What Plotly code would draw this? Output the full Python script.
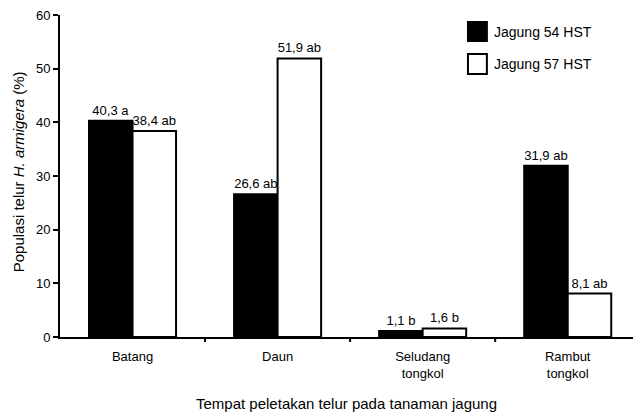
import plotly.graph_objects as go

# Egg-laying sites on maize plants
categories = ["Batang", "Daun", "Seludang<br>tongkol", "Rambut<br>tongkol"]

# Egg population (%) at two plant ages
jagung54 = [40.3, 26.6, 1.1, 31.9]
jagung57 = [38.4, 51.9, 1.6, 8.1]

# Value labels with significance letters
labels54 = ["40,3 a", "26,6 ab", "1,1 b", "31,9 ab"]
labels57 = ["38,4 ab", "51,9 ab", "1,6 b", "8,1 ab"]

series_names = ["Jagung 54 HST", "Jagung 57 HST"]
y_ticks = [0, 10, 20, 30, 40, 50, 60]

FONT = "Liberation Sans, Arial, sans-serif"

fig = go.Figure()
fig.add_trace(go.Bar(
    x=categories, y=jagung54, name=series_names[0],
    marker=dict(color="black", line=dict(color="black", width=2)),
    text=labels54, textposition="outside", cliponaxis=False,
    constraintext="none", textfont=dict(size=13, color="black", family=FONT),
))
fig.add_trace(go.Bar(
    x=categories, y=jagung57, name=series_names[1],
    marker=dict(color="white", line=dict(color="black", width=2)),
    text=labels57, textposition="outside", cliponaxis=False,
    constraintext="none", textfont=dict(size=13, color="black", family=FONT),
))

# Tick marks between categories on the x axis
for b in [0.5, 1.5, 2.5]:
    fig.add_shape(type="line", xref="x", yref="paper", x0=b, x1=b,
                  ysizemode="pixel", yanchor=0, y0=0, y1=-5,
                  line=dict(color="black", width=2))

# Hand-drawn legend boxes and labels
legend_rows = [(0.978, 0.919, "black", 0.948), (0.879, 0.817, "white", 0.848)]
for (y0, y1, col, ty), name in zip(legend_rows, series_names):
    fig.add_shape(type="rect", xref="paper", yref="paper",
                  x0=0.712, x1=0.745, y0=y1, y1=y0,
                  fillcolor=col, line=dict(color="black", width=2))
    fig.add_annotation(xref="paper", yref="paper", x=0.754, y=ty,
                       text=name, showarrow=False, xanchor="left",
                       yanchor="middle", font=dict(size=14, color="black", family=FONT))

# Axis titles
fig.add_annotation(xref="paper", yref="paper", x=0.5, y=-0.206,
                   text="Tempat peletakan telur pada tanaman jagung",
                   showarrow=False, xanchor="center", yanchor="middle",
                   font=dict(size=15, color="black", family=FONT))
fig.add_annotation(xref="paper", yref="paper", x=-0.073, y=0.512,
                   text="Populasi telur <i>H. armigera</i> (%)", textangle=-90,
                   showarrow=False, xanchor="center", yanchor="middle",
                   font=dict(size=15, color="black", family=FONT))

fig.update_layout(
    width=633, height=414,
    margin=dict(l=60, r=0, t=15, b=77),
    paper_bgcolor="white", plot_bgcolor="white",
    barmode="group", bargap=0.4, bargroupgap=0,
    showlegend=False,
    font=dict(family=FONT, size=13, color="black"),
)
fig.update_xaxes(
    range=[-0.5, 3.45], showline=True, linecolor="black", linewidth=2,
    ticks="", showgrid=False, zeroline=False, ticklabelstandoff=6,
    tickfont=dict(size=13, color="black", family=FONT),
)
fig.update_yaxes(
    range=[0, 60], tickvals=y_ticks, showline=True, linecolor="black",
    linewidth=2, ticks="outside", ticklen=5, tickwidth=2, tickcolor="black",
    showgrid=False, zeroline=False,
    tickfont=dict(size=13, color="black", family=FONT),
)

fig.write_html("out.html")
